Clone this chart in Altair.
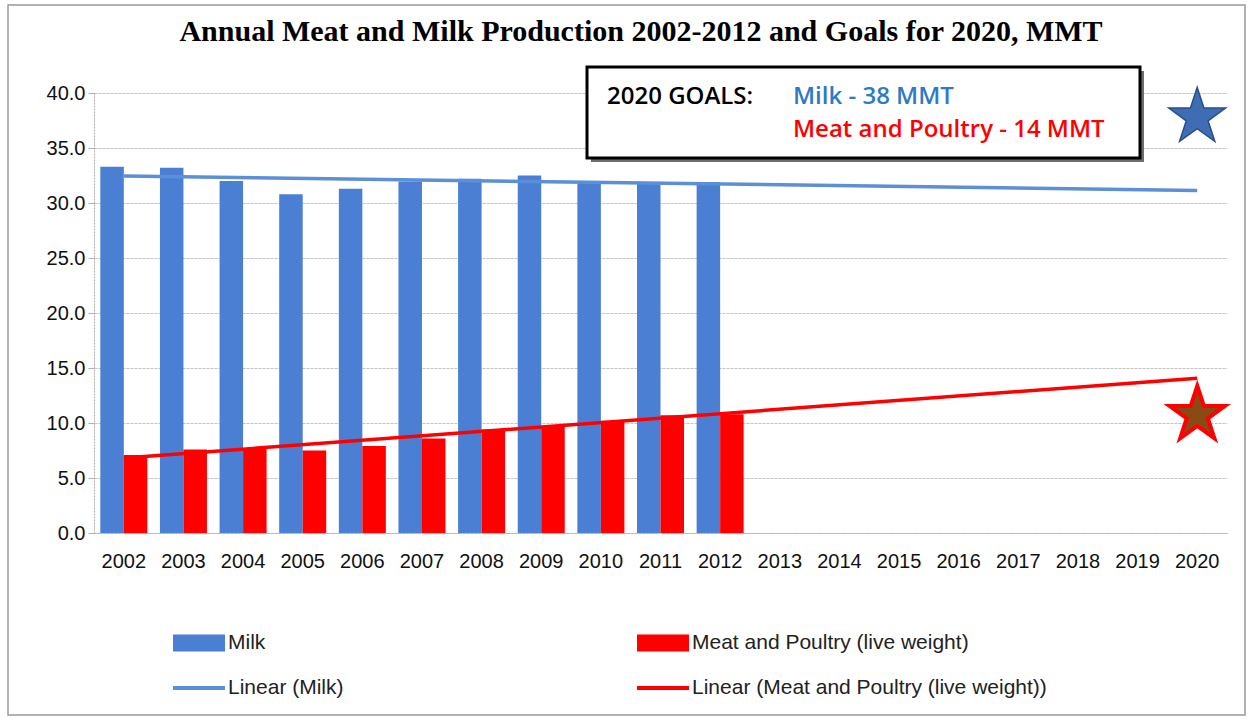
import altair as alt
import pandas as pd

# ---- data ----
years_all = ["2002", "2003", "2004", "2005", "2006", "2007", "2008", "2009", "2010",
             "2011", "2012", "2013", "2014", "2015", "2016", "2017", "2018", "2019", "2020"]
data_years = ["2002", "2003", "2004", "2005", "2006", "2007", "2008", "2009", "2010", "2011", "2012"]
milk = [33.3, 33.2, 32.0, 30.8, 31.3, 31.95, 32.2, 32.5, 31.95, 31.9, 31.9]
meat = [7.1, 7.6, 7.7, 7.5, 7.9, 8.6, 9.4, 9.7, 10.2, 10.7, 10.8]
series_names = ["Milk", "Meat and Poultry (live weight)"]
legend_labels = ["Milk", "Meat and Poultry (live weight)",
                 "Linear (Milk)", "Linear (Meat and Poultry (live weight))"]
legend_colors = ["#4a7fd4", "#ff0000", "#5b8fd8", "#ff0000"]
est_text = ["(est.)"]
star_years = ["2020", "2020"]
star_values = [38.0, 11.0]
title_text = ["Annual  Meat and Milk Production 2002-2012 and Goals for 2020, MMT"]
goal_head = ["2020 GOALS:"]
goal_milk = ["Milk - 38 MMT"]
goal_meat = ["Meat and Poultry - 14 MMT"]

rows = []
for y, v in zip(data_years, milk):
    rows.append({"year": y, "yr": int(y), "series": series_names[0], "value": v})
for y, v in zip(data_years, meat):
    rows.append({"year": y, "yr": int(y), "series": series_names[1], "value": v})
df = pd.DataFrame(rows)

FONT = "Liberation Sans"
color_scale = alt.Scale(domain=legend_labels, range=legend_colors)
x_scale = alt.Scale(domain=years_all, paddingInner=0.21, paddingOuter=0.105)
y_scale = alt.Scale(domain=[0, 40], nice=False)

x_axis = alt.Axis(title=None, labelAngle=0, ticks=False, domain=True, domainColor="#b0b0b0",
                  domainDash=[2, 1], labelFont=FONT, labelFontSize=20, labelColor="#111111",
                  labelPadding=18)
y_axis = alt.Axis(title=None, values=[0, 5, 10, 15, 20, 25, 30, 35, 40], format=".1f",
                  grid=True, gridColor="#c4c4c4", gridDash=[3, 1],
                  domain=True, domainColor="#b0b0b0", domainDash=[2, 1],
                  tickColor="#b0b0b0", tickSize=6, labelFont=FONT, labelFontSize=20,
                  labelColor="#111111", labelPadding=3)


def const_df():
    return pd.DataFrame({"a": [0]})


border = alt.Chart(const_df()).mark_rect(
    fillOpacity=0, stroke="#9a9a9a", strokeWidth=1.5
).encode(x=alt.value(-86), x2=alt.value(1151), y=alt.value(-88), y2=alt.value(622))

milk_bars = alt.Chart(df).transform_filter(
    alt.datum.series == series_names[0]
).mark_bar(width=23.5, xOffset=-11.75).encode(
    x=alt.X("year:O", scale=x_scale, axis=x_axis),
    y=alt.Y("value:Q", scale=y_scale, axis=y_axis),
    color=alt.Color("series:N", scale=color_scale, legend=None),
)
meat_bars = alt.Chart(df).transform_filter(
    alt.datum.series == series_names[1]
).mark_bar(width=23.5, xOffset=11.75).encode(
    x=alt.X("year:O", scale=x_scale, axis=None),
    y=alt.Y("value:Q", scale=y_scale),
    color=alt.Color("series:N", scale=color_scale, legend=None),
)

# Excel-style linear trendlines (least squares), extended to 2020
trend = alt.Chart(df).transform_regression(
    "yr", "value", groupby=["series"], extent=[2002, 2020]
).transform_calculate(
    series="'Linear (' + datum.series + ')'"
).mark_line(strokeWidth=3.5).encode(
    x=alt.X("yr:Q", scale=alt.Scale(domain=[2001.5, 2020.5], nice=False, zero=False), axis=None),
    y=alt.Y("value:Q", scale=y_scale),
    color=alt.Color("series:N", scale=color_scale, legend=None),
    detail="series:N",
)

# "(est.)" under the 2012 tick label (2012 band centre)
est = alt.Chart(pd.DataFrame({"t": est_text})).mark_text(
    font=FONT, fontSize=17, color="#111111", baseline="middle", align="center"
).encode(x=alt.value(626), y=alt.value(58), text="t:N")

shadow = alt.Chart(const_df()).mark_rect(fill="#6e6e6e").encode(
    x=alt.value(497), x2=alt.value(1050), y=alt.value(-22), y2=alt.value(69))
box = alt.Chart(const_df()).mark_rect(
    fill="white", stroke="black", strokeWidth=3
).encode(x=alt.value(493), x2=alt.value(1046), y=alt.value(-26), y2=alt.value(65))

GOAL_FONT = dict(font="Open Sans", fontSize=24, fontWeight=600, align="left", baseline="middle")
t_head = alt.Chart(pd.DataFrame({"t": goal_head})).mark_text(color="black", **GOAL_FONT).encode(
    text="t:N", x=alt.value(513), y=alt.value(4))
t_milk = alt.Chart(pd.DataFrame({"t": goal_milk})).mark_text(color="#2f7ac4", **GOAL_FONT).encode(
    text="t:N", x=alt.value(699), y=alt.value(4))
t_meat = alt.Chart(pd.DataFrame({"t": goal_meat})).mark_text(color="#ff0000", **GOAL_FONT).encode(
    text="t:N", x=alt.value(699), y=alt.value(37))

star_df = pd.DataFrame({"year": star_years, "value": star_values})
star_milk = alt.Chart(star_df.head(1)).mark_text(
    text="\u2605", font="DejaVu Sans", fontSize=74, fill="#3e6db3", stroke="#24508f",
    strokeWidth=1.5, baseline="middle", dy=4
).encode(x=alt.X("year:O", scale=x_scale, axis=None), y=alt.Y("value:Q", scale=y_scale))
star_meat = alt.Chart(star_df.tail(1)).mark_text(
    text="\u2605", font="DejaVu Sans", fontSize=72, fill="#8a4a14", stroke="#ff0000",
    strokeWidth=4, baseline="middle", dy=4
).encode(x=alt.X("year:O", scale=x_scale, axis=None), y=alt.Y("value:Q", scale=y_scale))


# ---- legend (drawn as marks) ----
def legend_entry(label, color, sx, sy, sh):
    sym = alt.Chart(const_df()).mark_rect(fill=color).encode(
        x=alt.value(sx), x2=alt.value(sx + 52), y=alt.value(sy - sh / 2), y2=alt.value(sy + sh / 2))
    txt = alt.Chart(pd.DataFrame({"t": [label]})).mark_text(
        font=FONT, fontSize=21, color="#222222", align="left", baseline="middle"
    ).encode(text="t:N", x=alt.value(sx + 55), y=alt.value(sy))
    return [sym, txt]


legend_layers = []
legend_layers += legend_entry(legend_labels[0], legend_colors[0], 79, 550, 17)
legend_layers += legend_entry(legend_labels[1], legend_colors[1], 543, 550, 17)
legend_layers += legend_entry(legend_labels[2], legend_colors[2], 79, 595, 4)
legend_layers += legend_entry(legend_labels[3], legend_colors[3], 543, 595, 4)

title = alt.Chart(pd.DataFrame({"t": title_text})).mark_text(
    font="Liberation Serif", fontSize=30, fontWeight="bold", color="black",
    align="center", baseline="middle"
).encode(text="t:N", x=alt.value(547), y=alt.value(-61))

chart = alt.layer(
    border, milk_bars, meat_bars, trend, est, shadow, box, t_head, t_milk, t_meat,
    star_milk, star_meat, *legend_layers, title
).resolve_scale(
    x="independent"
).properties(
    width=1133, height=440,
    autosize=alt.AutoSizeParams(type="none"),
    padding={"left": 94, "top": 93, "right": 26, "bottom": 186},
    background="white",
).configure_view(stroke=None)

chart.save("out.html", embed_options={"renderer": "svg", "actions": False})
